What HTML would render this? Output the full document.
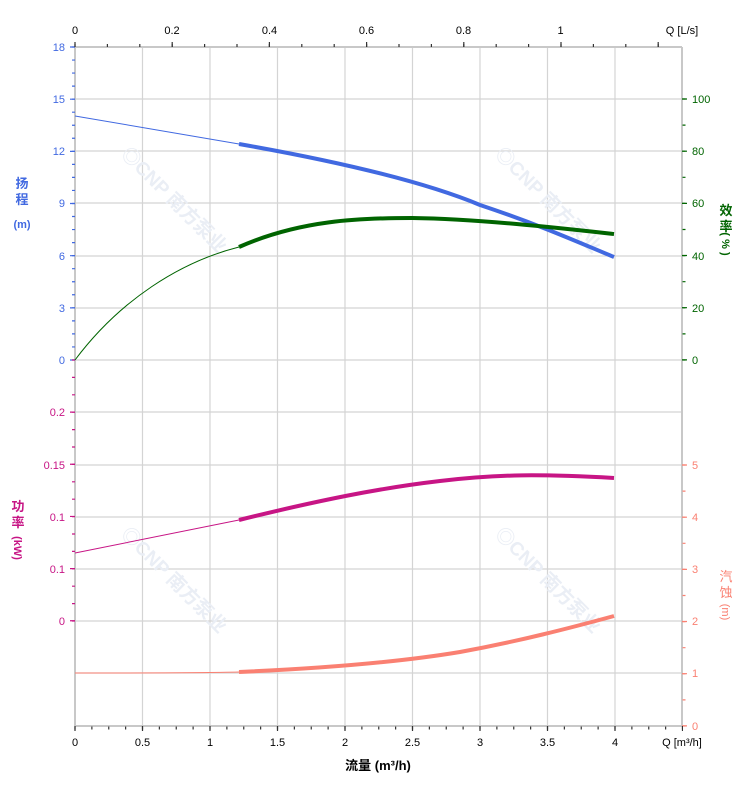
<!DOCTYPE html>
<html><head><meta charset="utf-8"><style>
html,body{margin:0;padding:0;background:#fff;width:752px;height:797px;overflow:hidden}
text{font-family:"Liberation Sans","Noto Sans CJK SC",sans-serif}
</style></head><body>
<svg width="752" height="797" xmlns="http://www.w3.org/2000/svg">
<g stroke="#d4d4d4" stroke-width="1.2">
<line x1="142.5" y1="47" x2="142.5" y2="726"/><line x1="210" y1="47" x2="210" y2="726"/>
<line x1="277.5" y1="47" x2="277.5" y2="726"/><line x1="345" y1="47" x2="345" y2="726"/>
<line x1="412.5" y1="47" x2="412.5" y2="726"/><line x1="480" y1="47" x2="480" y2="726"/>
<line x1="547.5" y1="47" x2="547.5" y2="726"/><line x1="615" y1="47" x2="615" y2="726"/>
<line x1="75" y1="99" x2="682" y2="99"/><line x1="75" y1="151" x2="682" y2="151"/>
<line x1="75" y1="203" x2="682" y2="203"/><line x1="75" y1="256" x2="682" y2="256"/>
<line x1="75" y1="308" x2="682" y2="308"/><line x1="75" y1="360" x2="682" y2="360"/>
<line x1="75" y1="412" x2="682" y2="412"/><line x1="75" y1="465" x2="682" y2="465"/>
<line x1="75" y1="517" x2="682" y2="517"/><line x1="75" y1="569" x2="682" y2="569"/>
<line x1="75" y1="621" x2="682" y2="621"/><line x1="75" y1="673" x2="682" y2="673"/>
</g>
<g stroke="#c8c8c8" stroke-width="2">
<line x1="75" y1="47" x2="682" y2="47"/><line x1="75" y1="726" x2="682" y2="726"/>
<line x1="75" y1="47" x2="75" y2="726"/><line x1="682" y1="47" x2="682" y2="726"/>
</g>
<g fill="#eaeef5" font-size="19" font-weight="bold">
<text transform="translate(120,155) rotate(45)">◎CNP 南方泵业</text>
<text transform="translate(494,155) rotate(45)">◎CNP 南方泵业</text>
<text transform="translate(120,535) rotate(45)">◎CNP 南方泵业</text>
<text transform="translate(494,535) rotate(45)">◎CNP 南方泵业</text>
</g>
<line x1="73.5" y1="46.4" x2="73.5" y2="361" stroke="#4169e1" stroke-width="3" stroke-dasharray="1.2 11.84"/>
<line x1="72.5" y1="46.4" x2="72.5" y2="361" stroke="#4169e1" stroke-width="5" stroke-dasharray="1.2 50.97"/>
<line x1="73.5" y1="359.4" x2="73.5" y2="622" stroke="#c71585" stroke-width="3" stroke-dasharray="1.2 16.2"/>
<line x1="72.5" y1="411.5" x2="72.5" y2="622" stroke="#c71585" stroke-width="5" stroke-dasharray="1.2 50.97"/>
<line x1="684" y1="98.4" x2="684" y2="361" stroke="#006400" stroke-width="3" stroke-dasharray="1.2 24.9"/>
<line x1="684.5" y1="98.4" x2="684.5" y2="361" stroke="#006400" stroke-width="5" stroke-dasharray="1.2 50.97"/>
<line x1="684" y1="464.4" x2="684" y2="727" stroke="#fa8072" stroke-width="3" stroke-dasharray="1.2 24.9"/>
<line x1="684.5" y1="464.4" x2="684.5" y2="727" stroke="#fa8072" stroke-width="5" stroke-dasharray="1.2 50.97"/>
<line x1="74.4" y1="728" x2="683" y2="728" stroke="#333" stroke-width="3" stroke-dasharray="1.2 15.675"/>
<line x1="74.4" y1="728.5" x2="683" y2="728.5" stroke="#333" stroke-width="5" stroke-dasharray="1.2 66.3"/>
<line x1="74.4" y1="45.5" x2="683" y2="45.5" stroke="#333" stroke-width="3" stroke-dasharray="1.2 31.2"/>
<line x1="74.4" y1="44.5" x2="683" y2="44.5" stroke="#333" stroke-width="5" stroke-dasharray="1.2 96"/>
<path d="M75,116 L239,144" stroke="#4169e1" stroke-width="1" fill="none"/>
<path d="M239,144 C330,160 420,180 480,205 C540,225 580,243 614,257" stroke="#4169e1" stroke-width="4" fill="none"/>
<path d="M75,360 C120,300 180,262 239,247" stroke="#006400" stroke-width="1" fill="none"/>
<path d="M239,247 C300,220 360,218 412,218 C480,219 560,228 614,234" stroke="#006400" stroke-width="4" fill="none"/>
<path d="M75,553 C140,540 200,528 239,520" stroke="#c71585" stroke-width="1" fill="none"/>
<path d="M239,520 C320,500 380,488 440,481 C500,474 540,474 614,478" stroke="#c71585" stroke-width="4" fill="none"/>
<path d="M75,673 C150,673 200,673 239,672" stroke="#fa8072" stroke-width="1" fill="none"/>
<path d="M239,672 C330,668 400,662 460,652 C520,641 570,628 614,616" stroke="#fa8072" stroke-width="4" fill="none"/>
<g font-size="11" fill="#4169e1" text-anchor="end">
<text x="65" y="51">18</text><text x="65" y="103">15</text><text x="65" y="155">12</text>
<text x="65" y="207">9</text><text x="65" y="260">6</text><text x="65" y="312">3</text><text x="65" y="364">0</text>
</g>
<g font-size="11" fill="#c71585" text-anchor="end">
<text x="65" y="416">0.2</text><text x="65" y="469">0.15</text><text x="65" y="521">0.1</text>
<text x="65" y="573">0.1</text><text x="65" y="625">0</text>
</g>
<g font-size="11" fill="#006400">
<text x="692" y="103">100</text><text x="692" y="155">80</text><text x="692" y="207">60</text>
<text x="692" y="260">40</text><text x="692" y="312">20</text><text x="692" y="364">0</text>
</g>
<g font-size="11" fill="#fa8072">
<text x="692" y="469">5</text><text x="692" y="521">4</text><text x="692" y="573">3</text>
<text x="692" y="625">2</text><text x="692" y="677">1</text><text x="692" y="730">0</text>
</g>
<g font-size="11" fill="#000" text-anchor="middle">
<text x="75" y="746">0</text><text x="142.5" y="746">0.5</text><text x="210" y="746">1</text>
<text x="277.5" y="746">1.5</text><text x="345" y="746">2</text><text x="412.5" y="746">2.5</text>
<text x="480" y="746">3</text><text x="547.5" y="746">3.5</text><text x="615" y="746">4</text>
<text x="682" y="746">Q [m³/h]</text>
<text x="75" y="34">0</text><text x="172" y="34">0.2</text><text x="269.5" y="34">0.4</text>
<text x="366.5" y="34">0.6</text><text x="463.5" y="34">0.8</text><text x="560.5" y="34">1</text>
<text x="682" y="34">Q [L/s]</text>
</g>
<text x="378" y="770" font-size="13" font-weight="bold" text-anchor="middle">流量 (m³/h)</text>
<g font-size="13" font-weight="bold" text-anchor="middle">
<g fill="#4169e1"><text x="22" y="188">扬</text><text x="22" y="204">程</text><text x="22" y="228" font-size="11">(m)</text></g>
<g fill="#c71585"><text x="18" y="511">功</text><text x="18" y="527">率</text><text transform="translate(14,548) rotate(90)" font-size="11">(kW)</text></g>
<g fill="#006400"><text x="726" y="215">效</text><text x="726" y="231">率</text><text transform="translate(722,244) rotate(90)" font-size="11">( % )</text></g>
<g fill="#fa8072" font-weight="normal"><text x="726" y="581">汽</text><text x="726" y="597">蚀</text><text transform="translate(722,612) rotate(90)" font-size="11">(m)</text></g>
</g>
</svg>
</body></html>
